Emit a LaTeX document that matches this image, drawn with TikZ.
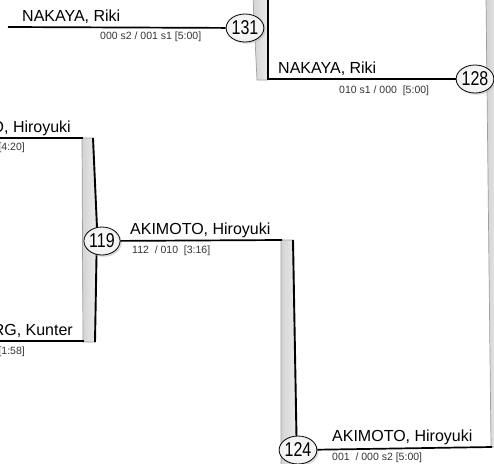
\documentclass[tikz,border=0pt]{standalone}
\usepackage{fontspec}
\setmainfont{Liberation Sans}
\newfontfamily\narrowfont[FakeStretch=0.8]{Liberation Sans}
\usetikzlibrary{shapes.geometric,shadows}

\tikzset{
 wire/.style={line width=1.7pt, black},
 barfill/.style={left color=gray!35, middle color=white, right color=gray!15, draw=gray!75, line width=0.7pt},
 baredge/.style={line width=1.9pt, black},
 seed/.style={ellipse, draw=black, line width=0.8pt, inner color=white, outer color=gray!12,
   minimum width=31pt, minimum height=28pt, inner sep=0pt,
   font=\narrowfont\fontsize{20}{20}\selectfont,
   drop shadow={shadow xshift=1.8pt, shadow yshift=-1.8pt, fill=gray!55}},
 pname/.style={anchor=base west, inner sep=0pt, font=\fontsize{16}{19}\selectfont},
 score/.style={anchor=base west, inner sep=0pt, font=\fontsize{10.5}{12}\selectfont, text=black!80},
}

\begin{document}
\begin{tikzpicture}[x=1pt,y=-1pt]
\useasboundingbox (0,0) rectangle (494,463);
\clip (0,0) rectangle (494,463);
\fill[white] (0,0) rectangle (494,463);

% bars
\draw[barfill] (253,-2) -- (257,80) -- (268,80) -- (268,-2);
\draw[baredge] (268,-2) -- (268,80);
\draw[barfill] (82,138) -- (83,342) -- (95,342) -- (97,228) -- (93,138) -- cycle;
\draw[baredge] (93,138) -- (97,228) -- (95,342);
\draw[barfill] (281,240) -- (293,240) -- (297,466) -- (281,466) -- cycle;
\draw[baredge] (293,240) -- (297,466);
\draw[barfill] (486,-2) -- (491,447) -- (500,447) -- (500,-2);

% coordinates
\coordinate (a1) at (8,27);
\coordinate (b131) at (268,79);
\coordinate (tl) at (0,138);
\coordinate (tlb) at (83,138);
\coordinate (bl) at (0,341);
\coordinate (blb) at (84,341);
\coordinate (b119) at (282,240);
\coordinate (b124) at (492,447);

% seeds
\node[seed] (c131) at (245,28) {131};
\node[seed] (c128) at (475,79) {128};
\node[seed] (c119) at (102,241) {119};
\node[seed] (c124) at (298,450) {124};

% lines
\draw[wire] (a1) -- (c131);
\draw[wire] (b131) -- (c128);
\draw[wire] (tl) -- (tlb);
\draw[wire] (bl) -- (blb);
\draw[wire] (c119) -- (b119);
\draw[wire] (c124) -- (b124);

% names
\node[pname] (n1) at (22,21) {NAKAYA, Riki};
\node[score] (s1) at (100,39) {000 s2 / 001 s1 [5:00]};
\node[pname] (n2) at (278,73) {NAKAYA, Riki};
\node[score] (s2) at (339,93) {010 s1 / 000 \ [5:00]};
\node[pname,anchor=base east] (n3) at (71,132) {O, Hiroyuki};
\node[score,anchor=base east] (s3) at (25,150) {[4:20]};
\node[pname,anchor=base east] (n4) at (73,335) {RG, Kunter};
\node[score,anchor=base east] (s4) at (25,354) {[1:58]};
\node[pname] (n5) at (130,234) {AKIMOTO, Hiroyuki};
\node[score] (s5) at (132,253) {112 \ / 010 \ [3:16]};
\node[pname] (n6) at (332,441) {AKIMOTO, Hiroyuki};
\node[score] (s6) at (332,460) {001 \ / 000 s2 [5:00]};
\end{tikzpicture}
\end{document}
